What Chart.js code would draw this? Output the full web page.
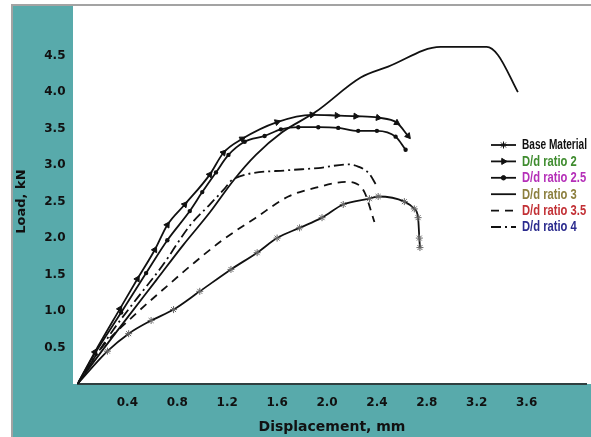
<!DOCTYPE html>
<html>
<head>
<meta charset="utf-8">
<script src="https://cdn.jsdelivr.net/npm/chart.js@4/dist/chart.umd.min.js"></script>
<style>
html,body{margin:0;padding:0;background:#fff;}
#wrap{position:relative;width:591px;height:437px;}
</style>
</head>
<body>
<div id="wrap"><canvas id="c" width="591" height="437"></canvas></div>
<script>
// ---- data (x: displacement mm, y: load kN) ----
const seriesNames = ["Base Material", "D/d ratio 2", "D/d ratio 2.5", "D/d ratio 3", "D/d ratio 3.5", "D/d ratio 4"];
const baseX = [0, 0.24, 0.41, 0.59, 0.77, 0.98, 1.23, 1.44, 1.60, 1.78, 1.96, 2.13, 2.34, 2.41, 2.62, 2.70, 2.73, 2.74, 2.745];
const baseY = [0, 0.45, 0.69, 0.87, 1.02, 1.27, 1.57, 1.80, 2.00, 2.14, 2.28, 2.46, 2.54, 2.57, 2.50, 2.40, 2.28, 2.00, 1.87];
const r2X = [0, 0.14, 0.34, 0.48, 0.62, 0.72, 0.86, 1.06, 1.17, 1.32, 1.60, 1.88, 2.08, 2.23, 2.41, 2.56, 2.65];
const r2Y = [0, 0.44, 1.03, 1.44, 1.84, 2.18, 2.46, 2.87, 3.17, 3.36, 3.59, 3.69, 3.68, 3.67, 3.65, 3.58, 3.40];
const r25X = [0, 0.14, 0.35, 0.55, 0.72, 0.90, 1.00, 1.11, 1.21, 1.34, 1.50, 1.63, 1.77, 1.93, 2.09, 2.25, 2.40, 2.55, 2.63];
const r25Y = [0, 0.42, 0.98, 1.52, 1.97, 2.37, 2.63, 2.90, 3.14, 3.32, 3.40, 3.49, 3.52, 3.52, 3.51, 3.47, 3.47, 3.39, 3.21];
const r3X = [0, 0.19, 0.40, 0.63, 0.85, 1.06, 1.25, 1.43, 1.64, 1.91, 2.27, 2.49, 2.91, 3.28, 3.37, 3.53];
const r3Y = [0, 0.44, 0.91, 1.42, 1.91, 2.35, 2.79, 3.14, 3.45, 3.73, 4.20, 4.35, 4.62, 4.62, 4.51, 4.00];
const r35X = [0, 0.19, 0.46, 0.73, 0.92, 1.16, 1.43, 1.69, 1.91, 2.15, 2.23, 2.30, 2.38];
const r35Y = [0, 0.49, 0.95, 1.36, 1.64, 1.97, 2.28, 2.57, 2.69, 2.77, 2.75, 2.63, 2.22];
const r4X = [0, 0.29, 0.48, 0.68, 0.90, 1.06, 1.17, 1.25, 1.69, 1.93, 2.17, 2.25, 2.34, 2.39];
const r4Y = [0, 0.75, 1.18, 1.62, 2.17, 2.46, 2.66, 2.81, 2.93, 2.96, 3.01, 2.98, 2.88, 2.74];
const xTickValues = [0.4, 0.8, 1.2, 1.6, 2.0, 2.4, 2.8, 3.2, 3.6];
const yTickValues = [0.5, 1.0, 1.5, 2.0, 2.5, 3.0, 3.5, 4.0, 4.5];
const legendColors = ["#111111", "#3f8c2f", "#b52fb8", "#8c7f3e", "#c23035", "#2b2b8e"];

function pts(xs, ys) { return xs.map((x, i) => ({x: x, y: ys[i]})); }

const TEAL = "#58aaab";

function arrowRotation(ctx) {
  const ds = ctx.chart.data.datasets[ctx.datasetIndex].data;
  const i = ctx.dataIndex;
  const a = ds[Math.max(0, i - 1)], b = ds[Math.min(ds.length - 1, i + 1)];
  const dx = (b.x - a.x) * 125.5, dy = -(b.y - a.y) * 75.5;
  return Math.atan2(dx, -dy) * 180 / Math.PI;
}
function hideFirst(r) { return (ctx) => ctx.dataIndex === 0 ? 0 : r; }

const bgPlugin = {
  id: 'bg',
  beforeDraw(chart) {
    const c = chart.ctx;
    const a = chart.chartArea;
    c.save();
    c.fillStyle = '#ffffff';
    c.fillRect(0, 0, chart.width, chart.height);
    c.fillStyle = TEAL;
    c.fillRect(12, 6, chart.width - 12, chart.height - 6);
    c.fillStyle = '#ffffff';
    c.fillRect(73, 6, chart.width - 73, a.bottom - 6);
    c.fillStyle = '#a3a3a3';
    c.fillRect(11, 4, chart.width - 11, 2);
    c.fillRect(11, 4, 2, chart.height - 4);
    c.restore();
  }
};

const legendPlugin = {
  id: 'customLegend',
  afterDraw(chart) {
    const c = chart.ctx;
    c.save();
    chart.data.datasets.forEach((ds, i) => {
      const y = 145 + i * 16.4;
      c.strokeStyle = '#111';
      c.lineWidth = 1.8;
      c.setLineDash(ds.borderDash || []);
      c.beginPath();
      c.moveTo(491, y);
      c.lineTo(516, y);
      c.stroke();
      c.setLineDash([]);
      if (ds.legendMarker && Chart.helpers && Chart.helpers.drawPoint) {
        c.fillStyle = '#111';
        c.strokeStyle = '#111';
        c.lineWidth = 1;
        Chart.helpers.drawPoint(c, {pointStyle: ds.legendMarker, radius: ds.legendMarker === 'circle' ? 2.2 : 3.5, rotation: ds.legendMarker === 'triangle' ? 90 : 0, borderWidth: 1}, 503.5, y);
      }
      c.save();
      c.translate(522, y + 0.5);
      c.scale(i === 0 ? 0.72 : 0.8, 1);
      c.fillStyle = legendColors[i];
      c.font = "bold 14px 'Liberation Sans', Arial, sans-serif";
      c.textBaseline = 'middle';
      c.textAlign = 'left';
      c.fillText(ds.label, 0, 0);
      c.restore();
    });
    c.restore();
  }
};

const common = {
  borderColor: '#111111',
  borderWidth: 1.8,
  cubicInterpolationMode: 'monotone',
  pointRadius: 0,
  pointHoverRadius: 0,
  fill: false
};

new Chart(document.getElementById('c'), {
  type: 'line',
  data: {
    datasets: [
      Object.assign({}, common, {label: seriesNames[0], data: pts(baseX, baseY), pointStyle: 'star', pointRadius: hideFirst(3.5), pointBorderColor: '#666', pointBackgroundColor: '#666', pointBorderWidth: 1, legendMarker: 'star'}),
      Object.assign({}, common, {label: seriesNames[1], data: pts(r2X, r2Y), pointStyle: 'triangle', pointRadius: hideFirst(3.5), pointRotation: arrowRotation, pointBorderColor: '#111', pointBackgroundColor: '#111', pointBorderWidth: 1, legendMarker: 'triangle'}),
      Object.assign({}, common, {label: seriesNames[2], data: pts(r25X, r25Y), pointStyle: 'circle', pointRadius: hideFirst(2.2), pointBorderColor: '#111', pointBackgroundColor: '#111', pointBorderWidth: 0, legendMarker: 'circle'}),
      Object.assign({}, common, {label: seriesNames[3], data: pts(r3X, r3Y)}),
      Object.assign({}, common, {label: seriesNames[4], data: pts(r35X, r35Y), borderDash: [8, 6]}),
      Object.assign({}, common, {label: seriesNames[5], data: pts(r4X, r4Y), borderDash: [10, 4, 2, 4]})
    ]
  },
  options: {
    responsive: false,
    animation: false,
    events: [],
    layout: {padding: {left: 0, top: 6.5, right: 1.5, bottom: 0}},
    plugins: {legend: {display: false}, tooltip: {enabled: false}, title: {display: false}},
    scales: {
      x: {
        type: 'linear', min: 0, max: 4.08,
        grid: {display: false, drawTicks: false},
        border: {display: true, color: '#2f3f40', width: 2},
        afterBuildTicks(s) { s.ticks = xTickValues.map(v => ({value: v})); },
        afterFit(s) { s.height = 53; },
        ticks: {
          padding: 12, color: '#111111', maxRotation: 0, autoSkip: false,
          font: {family: "'DejaVu Sans', sans-serif", weight: 'bold', size: 12},
          callback: (v) => Number(v).toFixed(1)
        },
        title: {display: true, text: 'Displacement, mm', color: '#111111', padding: {top: 0, bottom: 1},
          font: {family: "'DejaVu Sans', sans-serif", weight: 'bold', size: 14}}
      },
      y: {
        type: 'linear', min: 0, max: 5,
        grid: {display: false, drawTicks: false},
        border: {display: false},
        afterBuildTicks(s) { s.ticks = yTickValues.map(v => ({value: v})); },
        afterFit(s) { s.width = 77.5; },
        ticks: {
          padding: 12, color: '#111111', autoSkip: false,
          font: {family: "'DejaVu Sans', sans-serif", weight: 'bold', size: 12},
          callback: (v) => Number(v).toFixed(1)
        },
        title: {display: true, text: 'Load, kN', color: '#111111', padding: {top: 14, bottom: 0},
          font: {family: "'DejaVu Sans', sans-serif", weight: 'bold', size: 13}}
      }
    }
  },
  plugins: [bgPlugin, legendPlugin]
});
</script>
</body>
</html>
